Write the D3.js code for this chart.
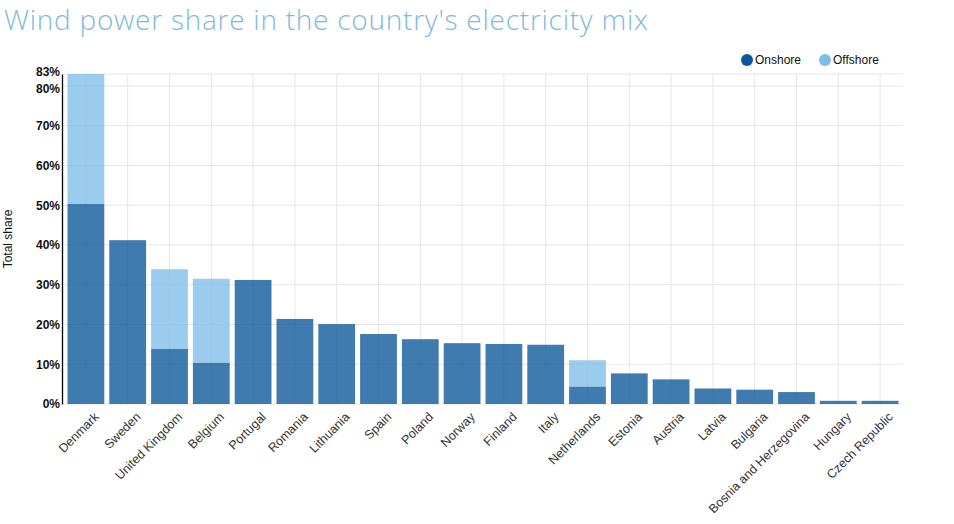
<!DOCTYPE html>
<html>
<head>
<meta charset="utf-8">
<script src="https://cdn.jsdelivr.net/npm/d3@7"></script>
<style>
  body { margin: 0; background: #fff; }
  svg { display: block; font-family: "Liberation Sans", Arial, sans-serif; }
</style>
</head>
<body>
<div id="chart"></div>
<script>
const countries = ["Denmark", "Sweden", "United Kingdom", "Belgium", "Portugal", "Romania",
  "Lithuania", "Spain", "Poland", "Norway", "Finland", "Italy", "Netherlands", "Estonia",
  "Austria", "Latvia", "Bulgaria", "Bosnia and Herzegovina", "Hungary", "Czech Republic"];
const onshore = [50.3, 41.2, 13.9, 10.4, 31.2, 21.4, 20.1, 17.6, 16.3, 15.3, 15.1, 14.9,
  4.4, 7.7, 6.2, 3.9, 3.6, 3.0, 0.8, 0.8];
const offshore = [32.7, 0, 20.0, 21.1, 0, 0, 0, 0, 0, 0, 0, 0, 6.6, 0, 0, 0, 0, 0, 0, 0];
const yTicks = [0, 10, 20, 30, 40, 50, 60, 70, 80, 83];

const width = 954;
const height = 524;
const margin = { top: 74, right: 51, bottom: 120, left: 62 };
const chartWidth = width - margin.left - margin.right;
const chartHeight = height - margin.top - margin.bottom;

const onColor = "#0a5699";
const offColor = "#7fbde8";

const data = countries.map((c, i) => ({ country: c, onshore: onshore[i], offshore: offshore[i] }));
const stacked = d3.stack().keys(["onshore", "offshore"])(data);

const svg = d3.select("#chart").append("svg")
  .attr("width", width)
  .attr("height", height);

svg.append("text")
  .attr("x", 4)
  .attr("y", 30)
  .attr("fill", "#7fb9e0")
  .attr("font-family", "'Open Sans', Lato, sans-serif")
  .attr("font-weight", 300)
  .attr("font-size", 28)
  .attr("textLength", 644)
  .text("Wind power share in the country's electricity mix");

const chart = svg.append("g")
  .attr("transform", `translate(${margin.left}, ${margin.top})`);

const xScale = d3.scaleBand()
  .domain(countries)
  .range([3, chartWidth - 2])
  .paddingInner(0.12)
  .paddingOuter(0.06);
const yScale = d3.scaleLinear().domain([0, 83]).range([chartHeight, 0]);

// grid
chart.append("g")
  .selectAll("line")
  .data(yTicks)
  .join("line")
  .attr("x1", 0)
  .attr("x2", chartWidth)
  .attr("y1", (d) => yScale(d))
  .attr("y2", (d) => yScale(d))
  .attr("stroke", "#e6e6e6");

chart.append("g")
  .selectAll("line")
  .data(countries)
  .join("line")
  .attr("x1", (d) => xScale(d) + xScale.bandwidth() / 2)
  .attr("x2", (d) => xScale(d) + xScale.bandwidth() / 2)
  .attr("y1", 0)
  .attr("y2", chartHeight)
  .attr("stroke", "#e6e6e6");

// bars
chart.append("g")
  .selectAll("g")
  .data(stacked)
  .join("g")
  .attr("fill", (d) => (d.key === "onshore" ? onColor : offColor))
  .attr("fill-opacity", 0.78)
  .selectAll("rect")
  .data((d) => d)
  .join("rect")
  .attr("x", (d) => xScale(d.data.country))
  .attr("y", (d) => yScale(d[1]))
  .attr("width", xScale.bandwidth())
  .attr("height", (d) => yScale(d[0]) - yScale(d[1]));

// axes
const xAxis = chart.append("g")
  .attr("transform", `translate(0, ${chartHeight})`)
  .call(d3.axisBottom(xScale).tickSize(0).tickPadding(6));
xAxis.select(".domain").remove();
xAxis.selectAll("text")
  .attr("font-size", 12.5)
  .attr("font-family", "'Liberation Sans', Arial, sans-serif")
  .attr("fill", "#333")
  .attr("text-anchor", "end")
  .attr("transform", "translate(5, 5) rotate(-45)")
  .attr("dy", "0.5em");

const yAxis = chart.append("g")
  .call(d3.axisLeft(yScale).tickValues(yTicks).tickSize(0).tickPadding(2)
    .tickFormat((d) => `${d}%`));
yAxis.select(".domain").attr("stroke", "#000").attr("stroke-width", 1.3);
yAxis.selectAll("text")
  .attr("font-size", 12)
  .attr("font-weight", "bold")
  .attr("font-family", "'Liberation Sans', Arial, sans-serif")
  .attr("fill", "#111");
yAxis.selectAll(".tick")
  .filter((d) => d === 80)
  .select("text")
  .attr("dy", "0.55em");
yAxis.selectAll(".tick")
  .filter((d) => d === 83)
  .select("text")
  .attr("dy", "0.15em");

chart.append("text")
  .attr("transform", `translate(${-margin.left + 12}, ${chartHeight / 2}) rotate(-90)`)
  .attr("text-anchor", "middle")
  .attr("font-size", 12)
  .attr("fill", "#111")
  .text("Total share");

// legend
const legend = svg.append("g").attr("font-size", 12);
const legendItems = [
  { label: "Onshore", color: onColor, x: 747 },
  { label: "Offshore", color: offColor, x: 825 },
];
const item = legend.selectAll("g")
  .data(legendItems)
  .join("g")
  .attr("transform", (d) => `translate(${d.x}, 60)`);
item.append("circle").attr("r", 6).attr("fill", (d) => d.color);
item.append("text")
  .attr("x", 8)
  .attr("dy", "0.35em")
  .attr("fill", "#111")
  .text((d) => d.label);
</script>
</body>
</html>
